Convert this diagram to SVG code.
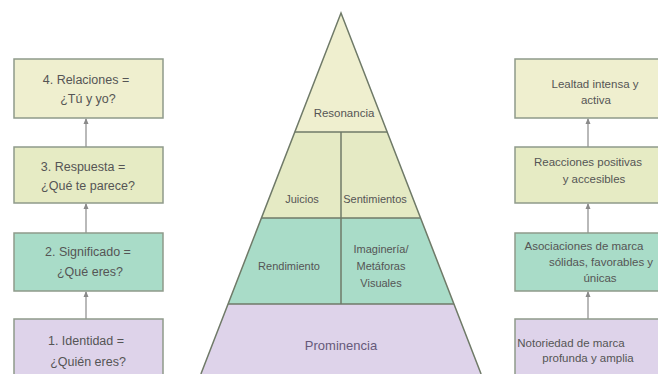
<svg xmlns="http://www.w3.org/2000/svg" width="658" height="374" viewBox="0 0 658 374">
<style>
.bx{stroke:#8f9a8a;stroke-width:1.5}
.y1{fill:#efefcf}
.y2{fill:#e6ebc4}
.tl{fill:#a9dcc8}
.pu{fill:#ded3ea}
.t{font-family:"Liberation Sans",Arial,sans-serif;font-size:12.5px;fill:#555;text-anchor:middle}
.s{font-family:"Liberation Sans",Arial,sans-serif;font-size:11.5px;fill:#555;text-anchor:middle}
.p{font-family:"Liberation Sans",Arial,sans-serif;font-size:11px;fill:#555;text-anchor:middle}
.cn{stroke:#8a8a8a;stroke-width:1.2;fill:none;marker-end:url(#ah)}
.pl{stroke:#6f7a68;stroke-width:1.5;fill:none}
</style>
<defs>
<marker id="ah" viewBox="0 0 6 6" refX="5" refY="3" markerWidth="5" markerHeight="5" orient="auto">
<path d="M0,0.5 L6,3 L0,5.5 Z" fill="#8a8a8a"/>
</marker>
</defs>
<rect width="658" height="374" fill="#ffffff"/>

<g id="connectors">
<line class="cn" x1="86" y1="147" x2="86" y2="119"/>
<line class="cn" x1="86" y1="233" x2="86" y2="204"/>
<line class="cn" x1="86" y1="319" x2="86" y2="292"/>
<line class="cn" x1="588" y1="147" x2="588" y2="119"/>
<line class="cn" x1="588" y1="233" x2="588" y2="204"/>
<line class="cn" x1="588" y1="319" x2="588" y2="292"/>
</g>

<g id="left4"><rect class="bx y1" x="14" y="59" width="149" height="59"/>
<text class="t" x="86" y="84">4. Relaciones =</text><text class="t" x="88" y="103">¿Tú y yo?</text></g>
<g id="left3"><rect class="bx y2" x="14" y="147" width="149" height="56"/>
<text class="t" x="83" y="171">3. Respuesta =</text><text class="t" x="88" y="190">¿Qué te parece?</text></g>
<g id="left2"><rect class="bx tl" x="14" y="233" width="149" height="58"/>
<text class="t" x="88" y="256">2. Significado =</text><text class="t" x="90" y="276">¿Qué eres?</text></g>
<g id="left1"><rect class="bx pu" x="14" y="319" width="149" height="70"/>
<text class="t" x="86" y="345">1. Identidad =</text><text class="t" x="88" y="366">¿Quién eres?</text></g>

<g id="right4"><rect class="bx y1" x="515" y="59" width="160" height="59"/>
<text class="s" x="595" y="88">Lealtad intensa y</text><text class="s" x="596" y="104">activa</text></g>
<g id="right3"><rect class="bx y2" x="515" y="147" width="160" height="56"/>
<text class="s" x="588" y="166">Reacciones positivas</text><text class="s" x="594" y="183">y accesibles</text></g>
<g id="right2"><rect class="bx tl" x="515" y="233" width="160" height="58"/>
<text class="s" x="584" y="250">Asociaciones de marca</text><text class="s" x="601" y="266">sólidas, favorables y</text><text class="s" x="600" y="282">únicas</text></g>
<g id="right1"><rect class="bx pu" x="515" y="319" width="160" height="70"/>
<text class="s" x="571" y="347">Notoriedad de marca</text><text class="s" x="588" y="362">profunda y amplia</text></g>

<g id="pyramid">
<polygon points="341,13 387.2,132 294.8,132" fill="#efefcf"/>
<polygon points="294.8,132 387.2,132 420.5,218 261.5,218" fill="#e5eac4"/>
<polygon points="261.5,218 420.5,218 453.9,304 228.1,304" fill="#a9dcc8"/>
<polygon points="228.1,304 453.9,304 481.1,374 200.9,374" fill="#ded3ea"/>
<polyline class="pl" points="200.9,374 341,13 481.1,374"/>
<line class="pl" x1="294.8" y1="132" x2="387.2" y2="132"/>
<line class="pl" x1="261.5" y1="218" x2="420.5" y2="218"/>
<line class="pl" x1="228.1" y1="304" x2="453.9" y2="304"/>
<line class="pl" x1="341" y1="132" x2="341" y2="304"/>
</g>
<g id="resonancia"><text class="p" x="344" y="117" style="font-size:11.5px">Resonancia</text></g>
<g id="juicios"><text class="p" x="302" y="203">Juicios</text></g>
<g id="sentimientos"><text class="p" x="375" y="203">Sentimientos</text></g>
<g id="rendimiento"><text class="p" x="289" y="270">Rendimiento</text></g>
<g id="imagineria"><text class="p" x="381" y="253">Imaginería/</text><text class="p" x="381" y="270">Metáforas</text><text class="p" x="381" y="287">Visuales</text></g>
<g id="prominencia"><text class="p" x="341" y="350" style="font-size:13px;fill:#66597a">Prominencia</text></g>
</svg>
